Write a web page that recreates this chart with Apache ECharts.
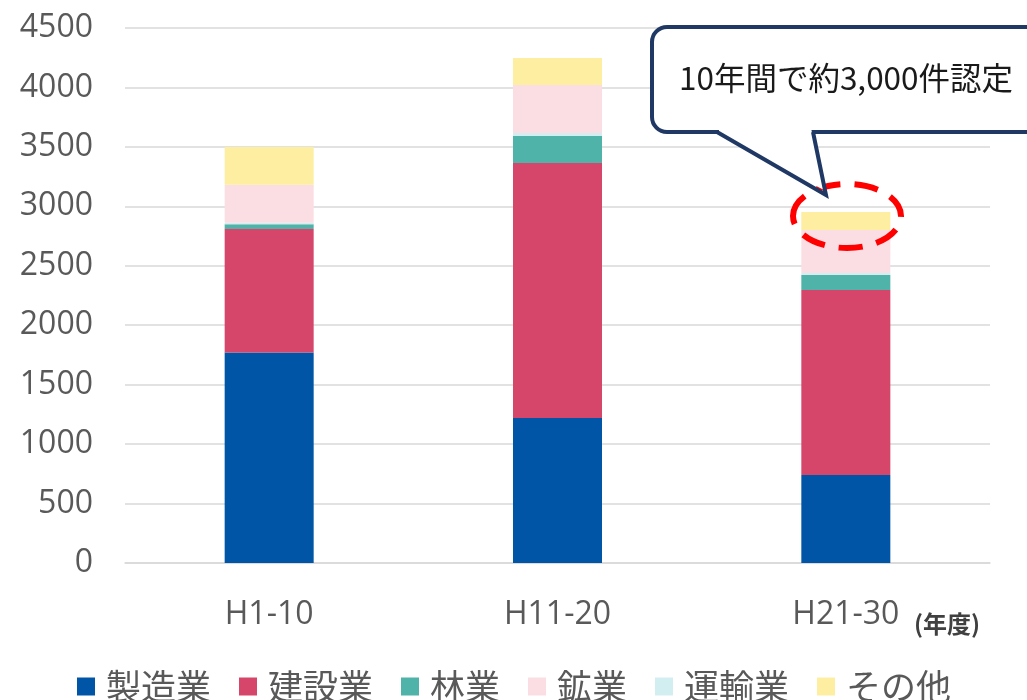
<!DOCTYPE html>
<html><head><meta charset="utf-8">
<script src="https://cdn.jsdelivr.net/npm/echarts@6/dist/echarts.min.js"></script>
<style>html,body{margin:0;padding:0;background:#fff}#c{width:1027px;height:700px}</style>
</head><body><div id="c"></div>
<script>
const categories = ['H1-10', 'H11-20', 'H21-30'];
const seizo = [1770, 1220, 740];      // 製造業
const kensetsu = [1040, 2145, 1556];  // 建設業
const ringyo = [40, 227, 126];        // 林業
const unyu = [12, 25, 17];            // 運輸業
const kogyo = [320, 403, 361];        // 鉱業
const sonota = [318, 227, 152];       // その他
const yTicks = [0, 500, 1000, 1500, 2000, 2500, 3000, 3500, 4000, 4500];
const legendNames = ['製造業', '建設業', '林業', '鉱業', '運輸業', 'その他'];

const colors = {
  '製造業': '#0055a6', '建設業': '#d6456a', '林業': '#4fb3a9',
  '鉱業': '#fbdde4', '運輸業': '#d3eef0', 'その他': '#fdeea2'
};
const stackOrder = [['製造業', seizo], ['建設業', kensetsu], ['林業', ringyo], ['運輸業', unyu], ['鉱業', kogyo], ['その他', sonota]];

const chart = echarts.init(document.getElementById('c'), null, {renderer: 'canvas'});
const FONT = '"Open Sans", "Noto Sans CJK JP", sans-serif';
const NAVY = '#1f3864';
chart.setOption({
  animation: false,
  grid: {left: 125, right: 37, top: 28, bottom: 137, containLabel: false},
  legend: {
    data: legendNames.map(n => ({name: n, icon: 'rect'})),
    left: 72, top: 664, itemWidth: 18, itemHeight: 18, itemGap: 28,
    textStyle: {fontSize: 35, color: '#595959', fontFamily: '"Noto Sans CJK JP", sans-serif', padding: [0, 0, 0, 6]}
  },
  xAxis: {
    type: 'category', data: categories,
    axisLine: {show: true, lineStyle: {color: '#d9d9d9', width: 1.5}},
    axisTick: {show: false},
    axisLabel: {fontSize: 32, color: '#595959', margin: 36, fontFamily: FONT}
  },
  yAxis: {
    type: 'value', min: yTicks[0], max: yTicks[yTicks.length - 1], interval: 500,
    axisLine: {show: false}, axisTick: {show: false},
    splitLine: {lineStyle: {color: '#d9d9d9', width: 1.5}},
    axisLabel: {fontSize: 32, color: '#595959', margin: 32, fontFamily: FONT, formatter: v => String(v)}
  },
  series: stackOrder.map(([name, vals]) => ({
    name, type: 'bar', stack: 'total', data: vals, barWidth: 89,
    itemStyle: {color: colors[name]}
  })),
  graphic: [
    {type: 'text', x: 914, y: 612, style: {text: '(年度)', fontSize: 24, fontWeight: 'bold', fill: '#404040', fontFamily: '"Noto Sans CJK JP", sans-serif'}},
    {type: 'ellipse', shape: {cx: 847, cy: 216, rx: 54, ry: 32}, z: 100,
     style: {fill: 'none', stroke: '#ff0000', lineWidth: 6, lineDash: [24, 14]}},
    {type: 'rect', z: 101, shape: {x: 652, y: 27, width: 400, height: 105, r: [15, 0, 0, 15]},
     style: {fill: '#ffffff', stroke: NAVY, lineWidth: 4}},
    {type: 'polygon', z: 102, shape: {points: [[719, 128], [811, 128], [824, 190], [719, 136]]},
     style: {fill: '#ffffff', stroke: null}},
    {type: 'polyline', z: 103, shape: {points: [[717, 132], [826, 195], [813, 132]]},
     style: {fill: null, stroke: NAVY, lineWidth: 4, lineJoin: 'miter'}},
    {type: 'text', z: 104, x: 846, y: 78,
     style: {text: '10年間で約3,000件認定', fontSize: 31.5, fill: '#1a1a1a', align: 'center', verticalAlign: 'middle', fontFamily: '"Noto Sans CJK JP", sans-serif'}}
  ]
});
</script></body></html>
